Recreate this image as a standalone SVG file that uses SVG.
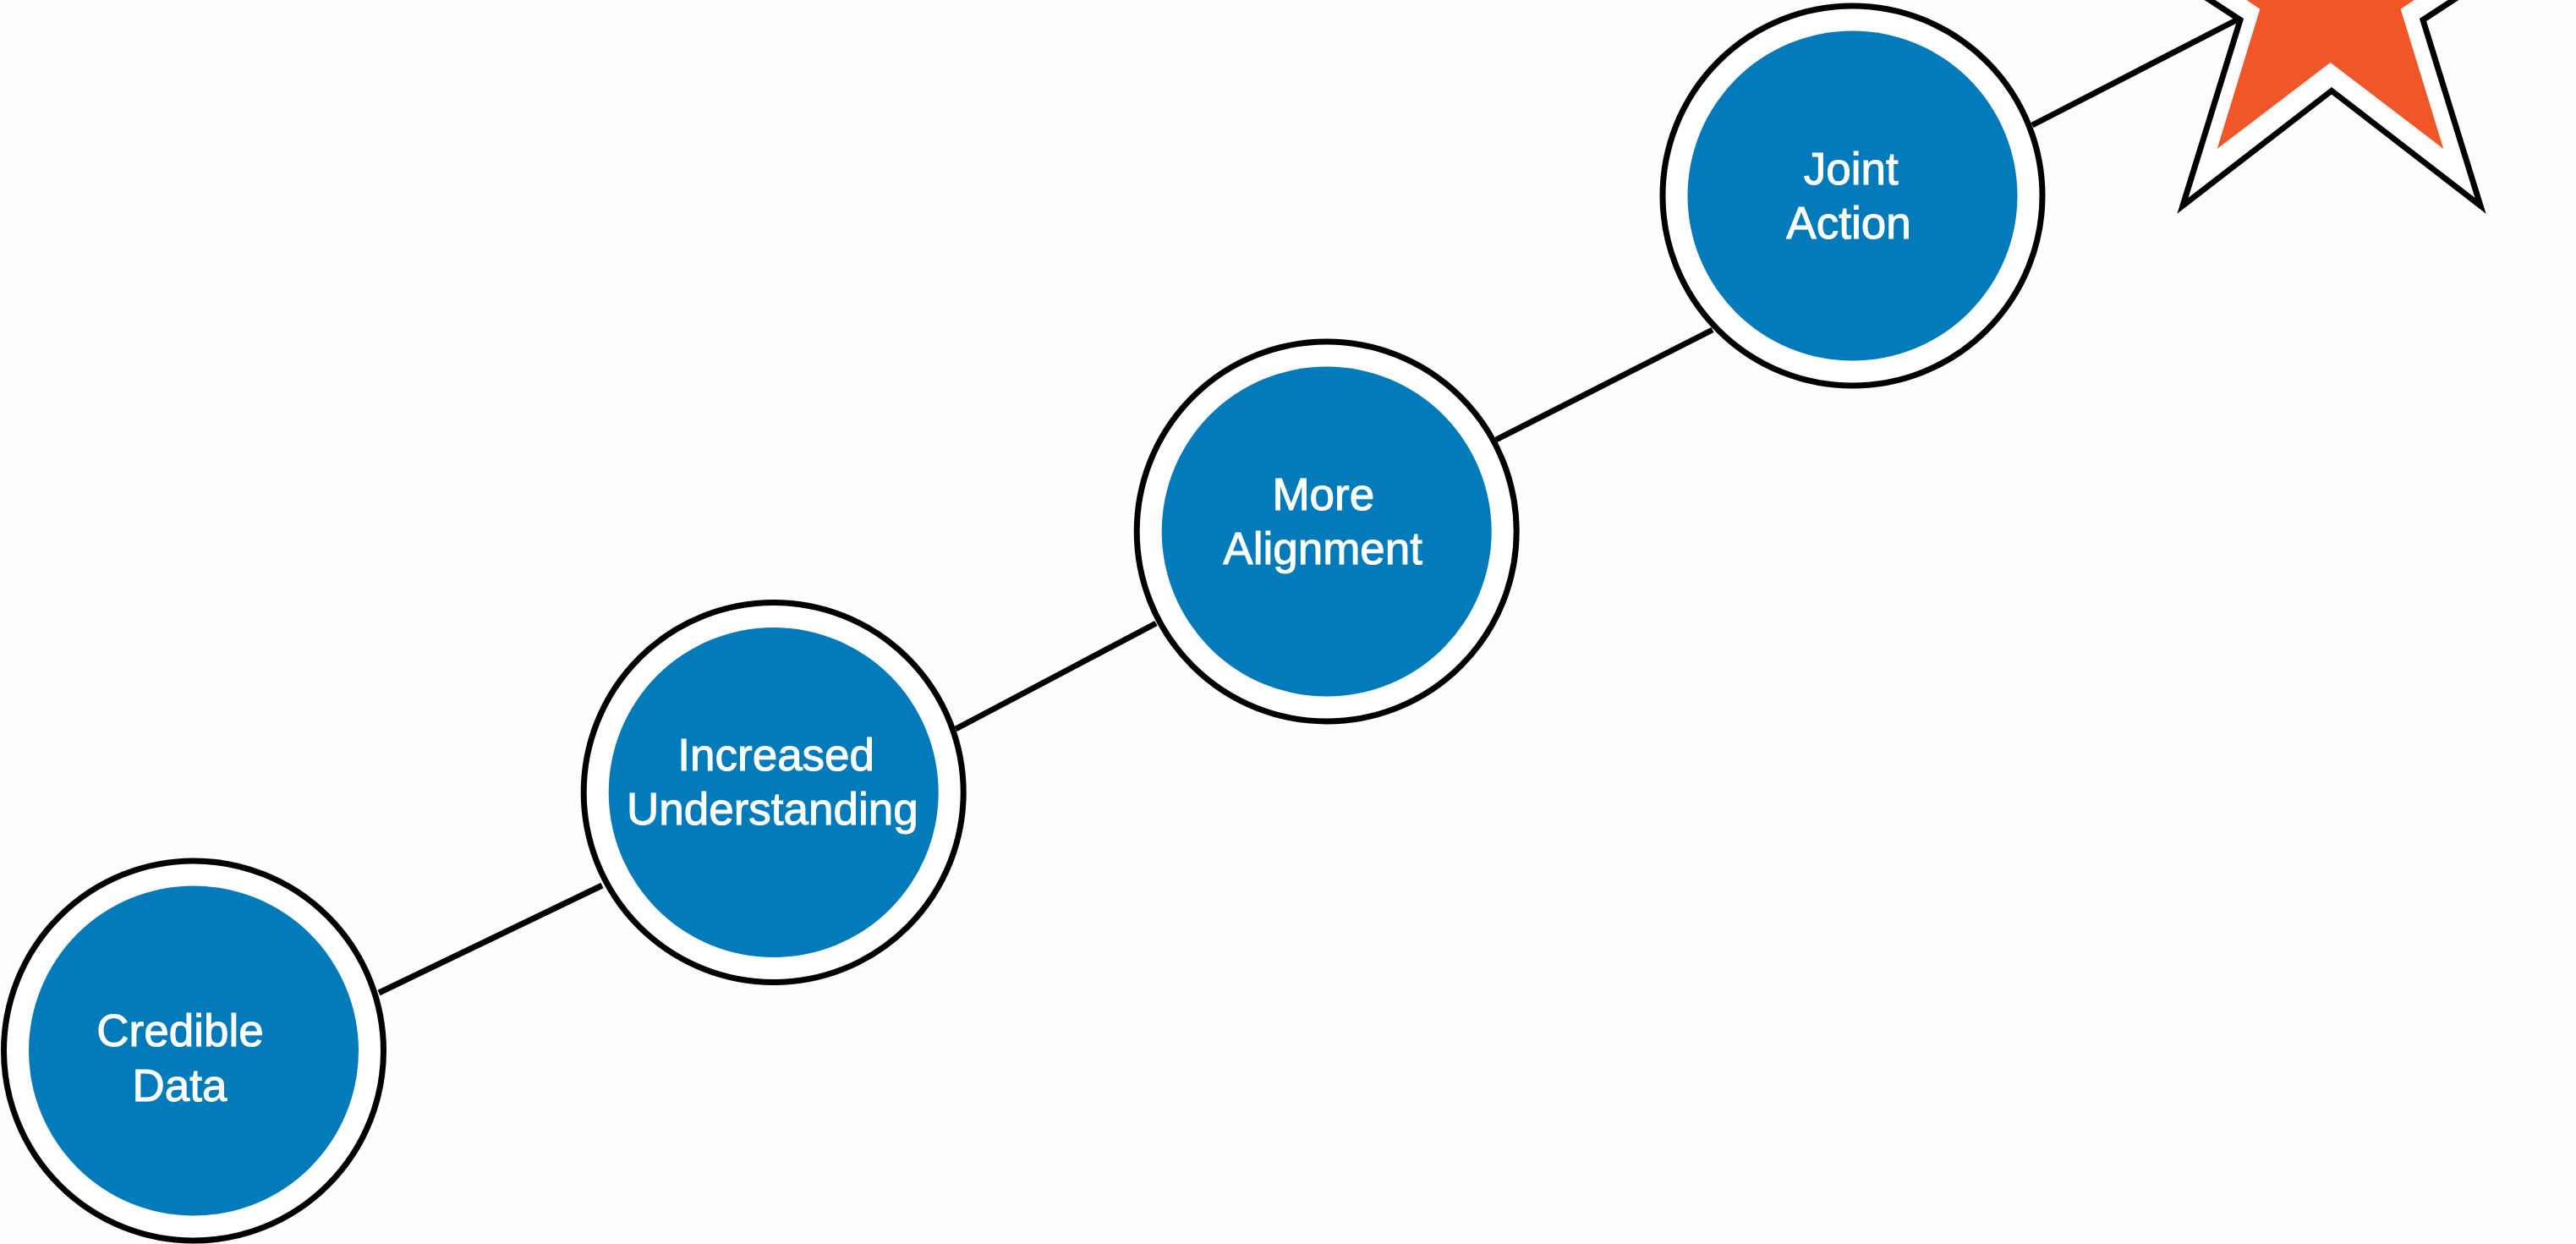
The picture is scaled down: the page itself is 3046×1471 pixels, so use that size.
<svg xmlns="http://www.w3.org/2000/svg" width="3046" height="1471" viewBox="0 0 3046 1471">
  <style>
    .ring { fill: #ffffff; stroke: #000000; stroke-width: 7; }
    .core { fill: #037bba; }
    .label { fill: #ffffff; stroke: #ffffff; stroke-width: 1; font-family: "Liberation Sans", Arial, sans-serif; font-size: 53px; text-anchor: middle; }
    .link { stroke: #000000; stroke-width: 7; fill: none; stroke-linecap: butt; }
  </style>
  <rect width="3046" height="1471" fill="#fdfdfd"/>

  <!-- connectors between the steps -->
  <g id="connectors">
    <line class="link" x1="448" y1="1174" x2="712" y2="1047"/>
    <line class="link" x1="1130" y1="862" x2="1367" y2="737"/>
    <line class="link" x1="1769" y1="520" x2="2025" y2="390"/>
    <line class="link" x1="2403" y1="148" x2="2646" y2="23"/>
  </g>

  <g id="node-credible-data">
    <circle class="ring" cx="229" cy="1242.5" r="224.5"/>
    <circle class="core" cx="229" cy="1242.5" r="195"/>
    <text class="label" x="213" y="1237">Credible</text>
    <text class="label" x="212.5" y="1302">Data</text>
  </g>

  <g id="node-increased-understanding">
    <circle class="ring" cx="914.7" cy="937" r="224.5"/>
    <circle class="core" cx="914.7" cy="937" r="195"/>
    <text class="label" x="917.7" y="910.7">Increased</text>
    <text class="label" x="913.3" y="975">Understanding</text>
  </g>

  <g id="node-more-alignment">
    <circle class="ring" cx="1568.7" cy="628.5" r="224.5"/>
    <circle class="core" cx="1568.7" cy="628.5" r="195"/>
    <text class="label" x="1564.8" y="603.3">More</text>
    <text class="label" x="1564.2" y="667.3">Alignment</text>
  </g>

  <g id="node-joint-action">
    <circle class="ring" cx="2190.5" cy="231.5" r="224.5"/>
    <circle class="core" cx="2190.5" cy="231.5" r="195"/>
    <text class="label" x="2188.8" y="218.3">Joint</text>
    <text class="label" x="2186" y="281.7">Action</text>
  </g>

  <!-- goal star, partly beyond the top edge -->
  <g id="node-goal-star">
    <polygon fill="#ffffff" stroke="#000000" stroke-width="7" stroke-linejoin="miter" stroke-miterlimit="10"
      points="2757,-299.4 2821.7,-88.4 3042.3,-92.1 2865,23.5 2933,243.3 2757,107.3 2581,243.3 2649,23.5 2471.7,-92.1 2692.3,-88.4"/>
    <polygon fill="#f05628"
      points="2755.5,-235.9 2805.5,-77 2972.1,-78.6 2838.7,10.7 2889.3,176 2755.5,74 2621.7,176 2672.3,10.7 2538.9,-78.6 2705.5,-77"/>
  </g>
</svg>
